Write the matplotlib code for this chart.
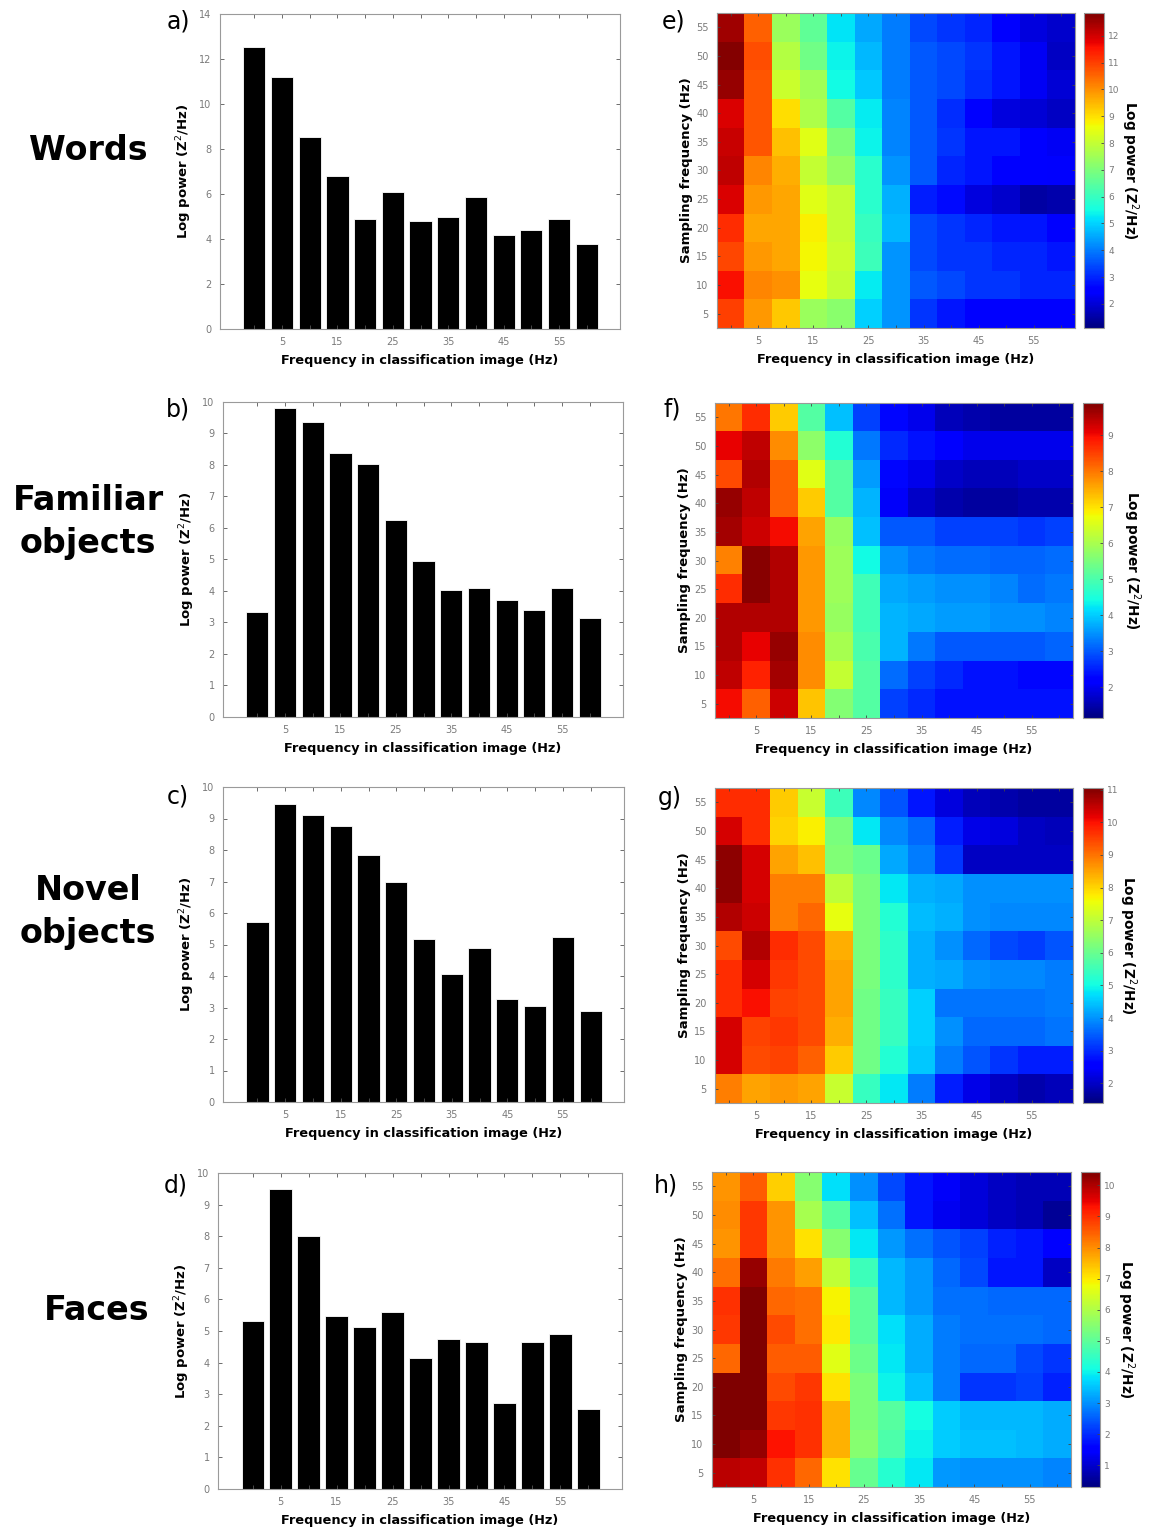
import numpy as np
import matplotlib
matplotlib.use("Agg")
from matplotlib import pyplot as plt

# ---- data -------------------------------------------------------------
freqs = [0, 5, 10, 15, 20, 25, 30, 35, 40, 45, 50, 55, 60]      # classification-image freq
sampling = [5, 10, 15, 20, 25, 30, 35, 40, 45, 50, 55]          # sampling freq
xtick_labels = ['', '5', '', '15', '', '25', '', '35', '', '45', '', '55', '']

row_names = ['Words', 'Familiar\nobjects', 'Novel\nobjects', 'Faces']

words_bars = [12.54, 11.18, 8.52, 6.80, 4.88, 6.07, 4.78, 4.97, 5.86, 4.17, 4.41, 4.90, 3.77]
familiar_bars = [3.34, 9.81, 9.36, 8.38, 8.04, 6.26, 4.95, 4.03, 4.08, 3.71, 3.41, 4.10, 3.13]
novel_bars = [5.73, 9.46, 9.10, 8.77, 7.83, 7.00, 5.19, 4.06, 4.90, 3.26, 3.04, 5.25, 2.90]
faces_bars = [5.31, 9.49, 8.01, 5.49, 5.14, 5.60, 4.14, 4.74, 4.66, 2.73, 4.66, 4.91, 2.52]

# heatmaps: rows = sampling freq 5..55 (bottom to top), cols = freqs 0..60
words_map = [
    [11.0, 9.9, 9.3, 7.4, 7.2, 5.0, 4.3, 3.2, 2.8, 2.6, 2.6, 2.6, 2.6],
    [11.6, 10.1, 10.0, 8.5, 8.0, 5.3, 4.3, 3.6, 3.4, 3.2, 3.2, 3.0, 3.0],
    [10.9, 9.9, 9.7, 8.7, 8.1, 6.1, 4.3, 3.4, 3.2, 3.2, 3.0, 3.0, 2.8],
    [11.2, 9.7, 9.7, 8.8, 8.0, 6.0, 4.7, 3.4, 3.2, 3.0, 2.8, 2.8, 2.6],
    [11.9, 9.9, 9.7, 8.4, 8.0, 5.8, 4.6, 2.9, 2.7, 2.1, 1.9, 1.5, 1.6],
    [12.2, 10.1, 9.6, 8.0, 7.3, 5.8, 4.3, 3.6, 3.0, 2.8, 2.6, 2.6, 2.4],
    [12.1, 10.7, 9.4, 8.4, 7.0, 5.4, 4.1, 3.6, 3.2, 2.8, 2.8, 2.6, 2.3],
    [11.9, 10.7, 9.0, 7.7, 6.4, 5.3, 4.1, 3.6, 3.1, 2.6, 2.1, 2.0, 1.8],
    [12.6, 10.7, 8.1, 7.5, 5.5, 4.9, 4.0, 3.6, 3.4, 3.1, 2.8, 2.3, 2.0],
    [12.8, 10.8, 7.8, 6.8, 5.4, 4.7, 4.0, 3.6, 3.4, 3.2, 2.8, 2.3, 1.8],
    [12.5, 10.6, 7.4, 6.6, 5.2, 4.5, 4.0, 3.4, 3.2, 3.0, 2.6, 2.1, 1.9],
]
familiar_map = [
    [9.0, 8.2, 9.3, 7.3, 5.6, 5.1, 2.8, 2.6, 2.4, 2.4, 2.4, 2.4, 2.4],
    [9.4, 8.8, 9.6, 7.8, 6.3, 5.1, 3.2, 2.8, 2.6, 2.4, 2.4, 2.3, 2.3],
    [9.5, 9.1, 9.7, 7.8, 6.0, 5.0, 3.8, 3.3, 3.0, 3.0, 3.0, 3.0, 3.1],
    [9.5, 9.5, 9.5, 7.7, 5.8, 4.9, 3.8, 3.7, 3.6, 3.6, 3.5, 3.5, 3.4],
    [8.7, 9.8, 9.5, 7.7, 5.9, 4.9, 3.7, 3.6, 3.5, 3.5, 3.4, 3.2, 3.3],
    [7.9, 9.8, 9.5, 7.7, 5.9, 4.4, 3.5, 3.3, 3.2, 3.2, 3.1, 3.1, 3.2],
    [9.6, 9.3, 9.0, 7.6, 5.8, 3.9, 3.0, 3.0, 2.8, 2.8, 2.8, 2.7, 2.8],
    [9.7, 9.4, 8.2, 7.2, 5.1, 3.8, 2.1, 1.7, 1.5, 1.4, 1.4, 1.5, 1.5],
    [8.4, 9.5, 8.2, 6.6, 5.1, 3.6, 2.3, 2.0, 1.7, 1.6, 1.6, 1.7, 1.7],
    [9.1, 9.4, 7.8, 5.7, 4.6, 3.3, 2.6, 2.4, 2.2, 2.0, 2.0, 2.0, 2.0],
    [8.0, 8.7, 7.2, 5.1, 3.9, 2.8, 2.3, 2.0, 1.6, 1.5, 1.4, 1.4, 1.4],
]
novel_map = [
    [8.9, 8.5, 8.6, 8.5, 7.1, 5.4, 4.8, 3.8, 2.9, 2.3, 2.0, 1.8, 1.9],
    [10.3, 9.4, 9.5, 9.2, 8.1, 6.1, 5.2, 4.5, 3.8, 3.4, 3.1, 2.9, 2.9],
    [10.3, 9.5, 9.6, 9.4, 8.4, 6.1, 5.4, 4.6, 4.0, 3.6, 3.6, 3.6, 3.7],
    [9.7, 10.0, 9.5, 9.4, 8.5, 6.1, 5.4, 4.6, 3.7, 3.7, 3.7, 3.7, 3.8],
    [9.7, 10.3, 9.6, 9.4, 8.5, 6.2, 5.3, 4.3, 4.2, 4.0, 3.9, 3.9, 3.8],
    [9.4, 10.6, 9.7, 9.4, 8.4, 6.2, 5.3, 4.3, 4.0, 3.6, 3.3, 3.2, 3.4],
    [10.6, 10.4, 8.9, 9.1, 7.5, 6.2, 5.2, 4.4, 4.3, 4.0, 3.9, 3.9, 3.9],
    [10.9, 10.3, 8.9, 8.9, 7.0, 6.2, 4.8, 4.3, 4.2, 4.0, 4.0, 4.0, 4.0],
    [10.9, 10.3, 8.5, 8.2, 6.3, 6.0, 4.2, 3.8, 3.1, 2.0, 2.0, 2.0, 2.0],
    [10.3, 9.7, 8.0, 7.7, 6.2, 4.8, 3.9, 3.6, 2.9, 2.3, 2.2, 2.0, 1.9],
    [9.7, 9.7, 8.1, 7.1, 5.5, 3.9, 3.4, 2.8, 2.2, 1.9, 1.8, 1.7, 1.7],
]
faces_map = [
    [9.9, 9.8, 9.0, 8.4, 7.1, 5.1, 4.3, 3.9, 3.1, 3.0, 3.0, 3.0, 2.9],
    [10.4, 10.2, 9.3, 9.0, 7.6, 5.5, 4.8, 4.0, 3.6, 3.5, 3.5, 3.4, 3.3],
    [10.4, 10.4, 8.9, 9.0, 7.6, 5.4, 4.9, 4.1, 3.6, 3.4, 3.4, 3.4, 3.3],
    [10.4, 10.4, 8.7, 8.9, 7.1, 5.4, 4.0, 3.5, 2.8, 2.1, 2.1, 2.2, 1.9],
    [8.4, 10.4, 8.5, 8.5, 6.6, 5.2, 3.9, 3.3, 2.8, 2.6, 2.6, 2.3, 2.1],
    [8.9, 10.4, 8.7, 8.3, 7.0, 5.0, 3.8, 3.3, 2.8, 2.7, 2.7, 2.7, 2.6],
    [9.0, 10.4, 8.4, 8.3, 6.9, 5.0, 3.4, 3.1, 2.7, 2.7, 2.6, 2.6, 2.6],
    [8.3, 10.2, 8.2, 7.8, 6.2, 4.6, 3.4, 3.1, 2.6, 2.3, 1.8, 1.8, 0.9],
    [7.9, 8.9, 7.9, 7.1, 5.5, 3.9, 3.1, 2.7, 2.4, 2.2, 1.9, 1.8, 1.6],
    [8.0, 8.9, 7.9, 5.9, 4.9, 3.5, 2.7, 1.8, 1.3, 1.1, 0.9, 0.8, 0.5],
    [7.9, 8.5, 7.3, 5.5, 3.8, 3.0, 2.3, 1.8, 1.4, 1.1, 0.9, 0.8, 0.8],
]

bars = [words_bars, familiar_bars, novel_bars, faces_bars]
maps = [words_map, familiar_map, novel_map, faces_map]
bar_ymax = [14, 10, 10, 10]
clims = [(1.1, 12.85), (1.15, 9.9), (1.4, 11.05), (0.3, 10.43)]
cticks = [range(2, 13), range(2, 10), range(2, 12), range(1, 11)]
letters_left = ['a)', 'b)', 'c)', 'd)']
letters_right = ['e)', 'f)', 'g)', 'h)']

# ---- layout (pixel boxes: left, top, right, bottom) ----------------------
W, H = 1154, 1532
bar_boxes = [(220, 14, 620, 329), (223, 402, 623, 717), (223, 787, 624, 1102), (218, 1173, 622, 1489)]
map_boxes = [(717, 13, 1075, 328), (715, 403, 1073, 718), (715, 788, 1073, 1103), (712, 1172, 1071, 1487)]
cbar_boxes = [(1084, 13, 1104, 328), (1083, 403, 1103, 718), (1083, 788, 1103, 1103), (1081, 1172, 1100, 1487)]
cbar_label_x = [1130, 1132, 1128, 1126]
name_pos = [(88, 150), (88, 522), (88, 912), (97, 1310)]
left_letter_pos = [(178, 22), (178, 410), (178, 797), (176, 1185)]
right_letter_pos = [(674, 22), (672, 410), (670, 798), (666, 1185)]

GRAY = '#7a7a7a'
SPINE = '#9a9a9a'


def box(b):
    l, t, r, bt = b
    return [l / W, 1 - bt / H, (r - l) / W, (bt - t) / H]


fig = plt.figure(figsize=(W / 100, H / 100), dpi=100)
plt.rcParams['font.family'] = ['DejaVu Sans']

for i in range(4):
    # bar chart
    ax = fig.add_axes(box(bar_boxes[i]))
    ax.bar(freqs, bars[i], width=4.0, color='black', edgecolor='white', linewidth=0.6)
    ax.set_xlim(-6.2, 66.0)
    ax.set_ylim(0, bar_ymax[i])
    ax.set_xticks(freqs)
    ax.set_xticklabels(xtick_labels)
    step = 2 if bar_ymax[i] == 14 else 1
    ax.set_yticks(range(0, bar_ymax[i] + 1, step))
    ax.tick_params(direction='in', top=True, right=True, length=3, width=0.6,
                   color='#555555', labelsize=7, labelcolor=GRAY, pad=6)
    for s in ax.spines.values():
        s.set_color(SPINE)
        s.set_linewidth(0.8)
    ax.set_xlabel('Frequency in classification image (Hz)', fontsize=9.3, fontweight='bold', labelpad=5)
    ax.set_ylabel('Log power (Z$^2$/Hz)', fontsize=9.5, fontweight='bold', labelpad=4)

    # heatmap
    hx = fig.add_axes(box(map_boxes[i]))
    vmin, vmax = clims[i]
    im = hx.imshow(np.array(maps[i]), cmap='jet', vmin=vmin, vmax=vmax, origin='lower',
                   aspect='auto', interpolation='nearest', extent=(-2.5, 62.5, 2.5, 57.5))
    hx.set_xticks(freqs)
    hx.set_xticklabels(xtick_labels)
    hx.set_yticks(sampling)
    hx.tick_params(direction='in', top=True, right=True, length=2.5, width=0.6,
                   color='#444444', labelsize=7, labelcolor=GRAY, pad=6)
    for s in hx.spines.values():
        s.set_color(SPINE)
        s.set_linewidth(0.8)
    hx.set_xlabel('Frequency in classification image (Hz)', fontsize=9.3, fontweight='bold', labelpad=5)
    hx.set_ylabel('Sampling frequency (Hz)', fontsize=9.5, fontweight='bold', labelpad=2)

    cx = fig.add_axes(box(cbar_boxes[i]))
    cb = fig.colorbar(im, cax=cx, ticks=list(cticks[i]))
    cb.outline.set_edgecolor(SPINE)
    cb.outline.set_linewidth(0.8)
    cx.tick_params(direction='in', length=2.5, width=0.6, color='#444444',
                   labelsize=6.5, labelcolor=GRAY, pad=3)
    cx.set_ylabel('Log power (Z$^2$/Hz)', rotation=-90, fontsize=9.8, fontweight='bold',
                  va='center', ha='center')
    l, t, r, bt = cbar_boxes[i]
    cx.yaxis.set_label_coords((cbar_label_x[i] - l) / (r - l), 0.5)

    # row name and panel letters
    x, y = name_pos[i]
    fig.text(x / W, 1 - y / H, row_names[i], ha='center', va='center', fontsize=24,
             fontweight='bold', linespacing=1.35)
    x, y = left_letter_pos[i]
    fig.text(x / W, 1 - y / H, letters_left[i], ha='center', va='center', fontsize=17)
    x, y = right_letter_pos[i]
    fig.text(x / W, 1 - y / H, letters_right[i], ha='center', va='center', fontsize=17)

plt.savefig('out.png', dpi=100)
